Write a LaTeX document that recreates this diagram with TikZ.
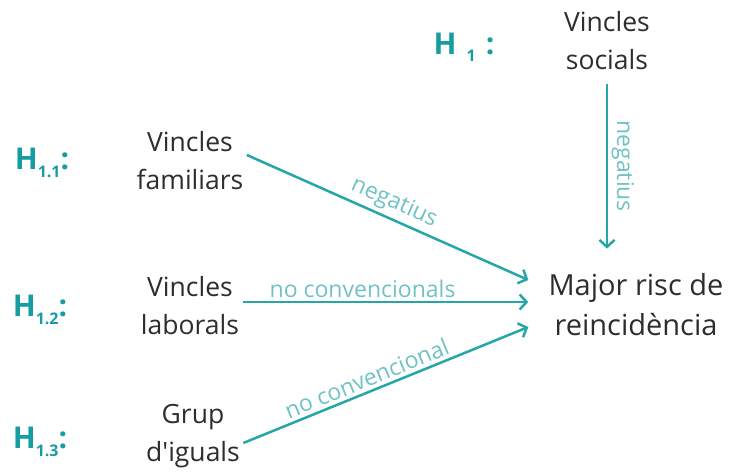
\documentclass[tikz,border=0pt]{standalone}
\usepackage{fontspec}
\setmainfont{Open Sans}
\usetikzlibrary{arrows.meta}
\definecolor{arrteal}{RGB}{38,166,168}
\definecolor{lblteal}{RGB}{112,194,196}
\definecolor{hypteal}{RGB}{22,156,161}
\definecolor{textgray}{RGB}{45,45,45}
\newcommand{\hyplabel}[1]{H\raisebox{-0.5ex}{\fontsize{16}{18}\selectfont\bfseries #1}:}
\tikzset{
	var_node/.style = {
		align=center,
		text=textgray,
		font=\fontsize{26.5}{38}\selectfont
	},
	out_node/.style = {
		var_node,
		inner xsep=20pt,
		inner ysep=25pt,
		font=\fontsize{29}{40}\selectfont
	},
	hyp_node/.style = {
		inner sep=0pt,
		text=hypteal,
		font=\fontsize{30}{32}\selectfont\bfseries
	},
	rel_arrow/.style = {
		draw=arrteal,
		line width=2.5pt,
		-{Straight Barb[length=7pt,width=15pt,line width=2.5pt]}
	},
	rel_label/.style = {
		sloped,
		above,
		text=lblteal,
		font=\fontsize{23}{26}\selectfont
	},
}

\begin{document}
\begin{tikzpicture}[x=1pt,y=-1pt]
\useasboundingbox (0,0) rectangle (729,472);
% variables
\node [var_node] (soc) at (607,41) {Vincles\\socials};
\node [var_node] (fam) at (190,161) {Vincles\\familiars};
\node [var_node] (lab) at (190,306) {Vincles\\laborals};
\node [var_node] (grup) at (193,436) {Grup\\d\textquotesingle iguals};
\node [out_node] (risc) at (636,305) {Major risc de\\reincidència};
% hypotheses
\node [hyp_node] (h1) at (464,47) {H\,\,\raisebox{-0.45ex}{\fontsize{16}{18}\selectfont\bfseries 1}\,\,:};
\node [hyp_node] (h11) at (42,163) {\hyplabel{1.1}};
\node [hyp_node] (h12) at (40,310) {\hyplabel{1.2}};
\node [hyp_node] (h13) at (40,442) {\hyplabel{1.3}};
% relations
\draw [rel_arrow] ([yshift=-10pt]soc.south) -- (soc.south |- risc.north) node [rel_label, midway] {negatius};
\draw [rel_arrow] ([yshift=6pt]fam.east) -- ([yshift=25pt]risc.west) node [rel_label, midway] {negatius};
\draw [rel_arrow] ([yshift=4pt]lab.east) -- ([yshift=3pt]risc.west) node [rel_label, pos=0.42] {no convencionals};
\draw [rel_arrow] ([yshift=-7pt]grup.east) -- ([yshift=-22pt]risc.west) node [rel_label, pos=0.45] {no convencional};
\end{tikzpicture}
\end{document}
